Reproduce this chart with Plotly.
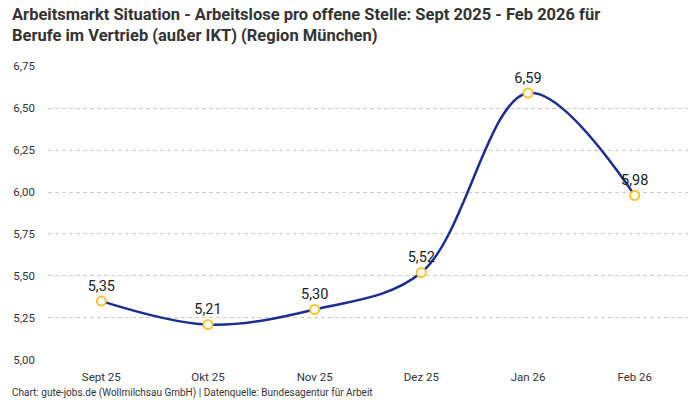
import plotly.graph_objects as go

# Arbeitslose pro offene Stelle, Berufe im Vertrieb (außer IKT), Region München
months = ["Sept 25", "Okt 25", "Nov 25", "Dez 25", "Jan 26", "Feb 26"]
ratio = [5.35, 5.21, 5.30, 5.52, 6.59, 5.98]
labels = [("%.2f" % v).replace(".", ",") for v in ratio]

title = ("<b>Arbeitsmarkt Situation - Arbeitslose pro offene Stelle: Sept 2025 - Feb 2026 für<br>"
         "Berufe im Vertrieb (außer IKT) (Region München)</b>")
source = "Chart: gute-jobs.de (Wollmilchsau GmbH) | Datenquelle: Bundesagentur für Arbeit"

fig = go.Figure(go.Scatter(
    x=months,
    y=ratio,
    mode="lines+markers+text",
    line=dict(color="#1b2d8f", width=2.5, shape="spline", smoothing=1),
    marker=dict(size=9, color="white", line=dict(color="#f7c531", width=2)),
    text=labels,
    textposition="top center",
    textfont=dict(size=14.5, color="#222222"),
    cliponaxis=False,
    hoverinfo="skip"
))

fig.update_layout(
    width=700, height=400,
    margin=dict(l=48, r=12, t=66, b=40),
    paper_bgcolor="white", plot_bgcolor="white",
    font=dict(family="Roboto", size=11, color="#333333"),
    separators=",.",
    showlegend=False,
    annotations=[
        dict(text=title, xref="paper", yref="paper", x=-0.059, y=1.215,
             xanchor="left", yanchor="top", align="left", showarrow=False,
             font=dict(size=16.5, color="#333333")),
        dict(text=source, xref="paper", yref="paper", x=-0.059, y=-0.112,
             xanchor="left", yanchor="middle", showarrow=False,
             font=dict(size=10, color="#333333")),
    ],
)
fig.update_xaxes(showgrid=False, showline=False, zeroline=False, ticks="",
                 range=[-0.5, 5.5], ticklabelstandoff=8,
                 tickfont=dict(size=11.5, color="#333333"))
fig.update_yaxes(range=[4.999, 6.751], tickvals=[5, 5.25, 5.5, 5.75, 6, 6.25, 6.5, 6.75],
                 tickformat=".2f", showgrid=True, gridcolor="#cccccc", griddash="4px,3px",
                 gridwidth=1, zeroline=False, showline=False, ticks="",
                 ticklabelstandoff=12, tickfont=dict(size=11.5, color="#333333"))

# page has a default body margin, drop it so the chart sits at the window corner
fig.write_html("out.html", config={"displayModeBar": False},
               post_script="document.body.style.margin='0';")
